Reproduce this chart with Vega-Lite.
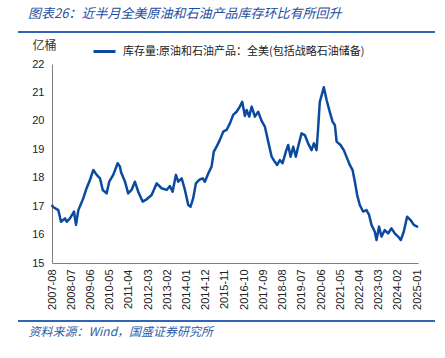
{
  "$schema": "https://vega.github.io/schema/vega-lite/v6.json",
  "width": 366,
  "height": 199,
  "autosize": {"type": "none"},
  "padding": {"left": 52, "top": 64, "right": 27, "bottom": 95},
  "background": "white",
  "title": {
    "text": "图表26：近半月全美原油和石油产品库存环比有所回升",
    "anchor": "start",
    "frame": "group",
    "orient": "top",
    "offset": 10,
    "dx": -24,
    "font": "Noto Sans CJK SC",
    "fontSize": 13,
    "fontStyle": "italic",
    "fontWeight": "normal",
    "color": "#1F4E9F"
  },
  "config": {
    "view": {"stroke": null},
    "font": "Liberation Sans",
    "axis": {"labelOverlap": false}
  },
  "resolve": {
    "scale": {"x": "independent", "y": "independent"},
    "axis": {"x": "independent", "y": "independent"}
  },
  "layer": [
    {
      "data": {
        "values": [
          {"d": "2007-08-01", "v": 17.05},
          {"d": "2007-08-13", "v": 16.98},
          {"d": "2007-11-19", "v": 16.86},
          {"d": "2008-01-05", "v": 16.45},
          {"d": "2008-03-14", "v": 16.57},
          {"d": "2008-04-13", "v": 16.45},
          {"d": "2008-06-09", "v": 16.57},
          {"d": "2008-08-18", "v": 16.81},
          {"d": "2008-09-22", "v": 16.34},
          {"d": "2008-11-02", "v": 16.86},
          {"d": "2009-01-28", "v": 17.28},
          {"d": "2009-03-26", "v": 17.63},
          {"d": "2009-05-23", "v": 17.92},
          {"d": "2009-07-20", "v": 18.27},
          {"d": "2009-09-18", "v": 18.1},
          {"d": "2009-11-14", "v": 17.98},
          {"d": "2010-01-01", "v": 17.57},
          {"d": "2010-03-10", "v": 17.45},
          {"d": "2010-04-24", "v": 17.86},
          {"d": "2010-07-03", "v": 18.1},
          {"d": "2010-09-18", "v": 18.51},
          {"d": "2010-10-28", "v": 18.39},
          {"d": "2010-11-15", "v": 18.2},
          {"d": "2011-01-24", "v": 17.86},
          {"d": "2011-03-20", "v": 17.45},
          {"d": "2011-05-18", "v": 17.57},
          {"d": "2011-07-15", "v": 17.86},
          {"d": "2011-09-11", "v": 17.51},
          {"d": "2011-11-27", "v": 17.16},
          {"d": "2012-02-05", "v": 17.24},
          {"d": "2012-05-02", "v": 17.39},
          {"d": "2012-07-28", "v": 17.8},
          {"d": "2012-10-23", "v": 17.63},
          {"d": "2013-01-19", "v": 17.57},
          {"d": "2013-03-16", "v": 17.71},
          {"d": "2013-05-02", "v": 17.51},
          {"d": "2013-06-29", "v": 18.1},
          {"d": "2013-08-08", "v": 17.86},
          {"d": "2013-10-07", "v": 17.98},
          {"d": "2013-12-03", "v": 17.57},
          {"d": "2014-01-30", "v": 17.04},
          {"d": "2014-03-11", "v": 16.98},
          {"d": "2014-04-26", "v": 17.28},
          {"d": "2014-06-12", "v": 17.8},
          {"d": "2014-08-09", "v": 17.92},
          {"d": "2014-10-07", "v": 17.98},
          {"d": "2014-11-16", "v": 17.86},
          {"d": "2015-01-13", "v": 18.15},
          {"d": "2015-03-12", "v": 18.39},
          {"d": "2015-04-21", "v": 18.92},
          {"d": "2015-06-07", "v": 19.09},
          {"d": "2015-08-04", "v": 19.33},
          {"d": "2015-10-01", "v": 19.62},
          {"d": "2015-11-29", "v": 19.68},
          {"d": "2016-01-26", "v": 19.91},
          {"d": "2016-03-23", "v": 20.21},
          {"d": "2016-05-21", "v": 20.32},
          {"d": "2016-07-17", "v": 20.5},
          {"d": "2016-08-27", "v": 20.67},
          {"d": "2016-10-13", "v": 20.17},
          {"d": "2016-11-12", "v": 20.38},
          {"d": "2016-12-27", "v": 20.15},
          {"d": "2017-02-08", "v": 20.5},
          {"d": "2017-04-05", "v": 20.15},
          {"d": "2017-06-01", "v": 20.32},
          {"d": "2017-07-31", "v": 20.0},
          {"d": "2017-09-26", "v": 19.8},
          {"d": "2017-11-23", "v": 19.27},
          {"d": "2018-01-22", "v": 18.74},
          {"d": "2018-03-18", "v": 18.56},
          {"d": "2018-04-28", "v": 18.45},
          {"d": "2018-06-14", "v": 18.62},
          {"d": "2018-07-31", "v": 18.51},
          {"d": "2018-09-27", "v": 18.92},
          {"d": "2018-11-06", "v": 19.15},
          {"d": "2018-12-18", "v": 18.74},
          {"d": "2019-02-02", "v": 19.09},
          {"d": "2019-03-19", "v": 18.74},
          {"d": "2019-04-28", "v": 19.09},
          {"d": "2019-06-27", "v": 19.56},
          {"d": "2019-08-23", "v": 19.5},
          {"d": "2019-10-19", "v": 19.21},
          {"d": "2019-12-18", "v": 18.97},
          {"d": "2020-01-28", "v": 19.21},
          {"d": "2020-03-14", "v": 18.97},
          {"d": "2020-04-11", "v": 19.74},
          {"d": "2020-05-10", "v": 20.67},
          {"d": "2020-07-19", "v": 21.18},
          {"d": "2020-09-10", "v": 20.7},
          {"d": "2020-11-02", "v": 20.3},
          {"d": "2020-12-19", "v": 19.97},
          {"d": "2021-01-28", "v": 19.85},
          {"d": "2021-02-27", "v": 19.27},
          {"d": "2021-05-06", "v": 19.15},
          {"d": "2021-07-02", "v": 18.97},
          {"d": "2021-08-29", "v": 18.68},
          {"d": "2021-10-15", "v": 18.45},
          {"d": "2021-12-02", "v": 18.27},
          {"d": "2022-01-11", "v": 17.86},
          {"d": "2022-02-20", "v": 17.39},
          {"d": "2022-04-07", "v": 17.04},
          {"d": "2022-06-03", "v": 16.81},
          {"d": "2022-08-01", "v": 16.86},
          {"d": "2022-09-16", "v": 16.69},
          {"d": "2022-10-28", "v": 16.34},
          {"d": "2022-12-24", "v": 16.1},
          {"d": "2023-01-23", "v": 15.81},
          {"d": "2023-03-08", "v": 16.28},
          {"d": "2023-04-19", "v": 15.93},
          {"d": "2023-06-16", "v": 16.16},
          {"d": "2023-08-12", "v": 16.04},
          {"d": "2023-10-11", "v": 16.22},
          {"d": "2023-12-07", "v": 16.04},
          {"d": "2024-02-03", "v": 15.93},
          {"d": "2024-03-21", "v": 15.81},
          {"d": "2024-05-12", "v": 16.1},
          {"d": "2024-07-09", "v": 16.63},
          {"d": "2024-09-07", "v": 16.51},
          {"d": "2024-11-03", "v": 16.34},
          {"d": "2024-12-31", "v": 16.28},
          {"d": "2025-01-15", "v": 16.3}
        ]
      },
      "mark": {"type": "line", "strokeWidth": 2.5, "strokeJoin": "round"},
      "encoding": {
        "x": {
          "field": "d",
          "type": "temporal",
          "scale": {"domain": [{"year": 2007, "month": 8, "date": 1}, {"year": 2025, "month": 1, "date": 15}]},
          "axis": {
            "values": [
              {"year": 2007, "month": 8, "date": 1}, {"year": 2008, "month": 7, "date": 1},
              {"year": 2009, "month": 6, "date": 1}, {"year": 2010, "month": 5, "date": 1},
              {"year": 2011, "month": 4, "date": 1}, {"year": 2012, "month": 3, "date": 1},
              {"year": 2013, "month": 2, "date": 1}, {"year": 2014, "month": 1, "date": 1},
              {"year": 2014, "month": 12, "date": 1}, {"year": 2015, "month": 11, "date": 1},
              {"year": 2016, "month": 10, "date": 1}, {"year": 2017, "month": 9, "date": 1},
              {"year": 2018, "month": 8, "date": 1}, {"year": 2019, "month": 7, "date": 1},
              {"year": 2020, "month": 6, "date": 1}, {"year": 2021, "month": 5, "date": 1},
              {"year": 2022, "month": 4, "date": 1}, {"year": 2023, "month": 3, "date": 1},
              {"year": 2024, "month": 2, "date": 1}, {"year": 2025, "month": 1, "date": 1}
            ],
            "format": "%Y-%m",
            "labelAngle": -90,
            "labelFontSize": 11,
            "labelColor": "#222222",
            "labelPadding": 6,
            "labelOverlap": false,
            "labelFlush": false,
            "ticks": false,
            "grid": false,
            "domainColor": "#7F7F7F",
            "title": "资料来源：Wind，国盛证券研究所",
            "titleFont": "Noto Sans CJK SC",
            "titleFontSize": 12,
            "titleFontStyle": "italic",
            "titleFontWeight": "normal",
            "titleColor": "#2F5DA8",
            "titleAlign": "left",
            "titleBaseline": "middle",
            "titleX": -24,
            "titleY": 68
          }
        },
        "y": {
          "field": "v",
          "type": "quantitative",
          "scale": {"domain": [15, 22], "nice": false, "zero": false},
          "axis": {
            "values": [15, 16, 17, 18, 19, 20, 21, 22],
            "labelFontSize": 11,
            "labelColor": "#222222",
            "labelPadding": 8,
            "labelOverlap": false,
            "ticks": false,
            "grid": false,
            "domainColor": "#7F7F7F",
            "title": "亿桶",
            "titleFont": "Noto Sans CJK SC",
            "titleFontSize": 12,
            "titleFontWeight": "normal",
            "titleColor": "#333333",
            "titleAngle": 0,
            "titleAlign": "left",
            "titleBaseline": "middle",
            "titleX": -20,
            "titleY": -19
          }
        },
        "color": {
          "datum": "库存量:原油和石油产品：全美(包括战略石油储备)",
          "scale": {"range": ["#0B4A9E"]},
          "legend": {
            "orient": "none",
            "legendX": 40,
            "legendY": -25,
            "title": null,
            "symbolType": "stroke",
            "symbolSize": 484,
            "symbolStrokeWidth": 3,
            "labelFont": "Noto Sans CJK SC",
            "labelFontSize": 11,
            "labelColor": "#222222",
            "labelOffset": 6,
            "labelLimit": 0,
            "padding": 0
          }
        }
      }
    },
    {
      "data": {"values": [{"a": -0.0929, "b": 1.0464, "y": 1.1608}, {"a": -0.0929, "b": 1.0464, "y": -0.2915}]},
      "mark": {"type": "rule", "color": "#2F66B3", "strokeWidth": 2, "clip": false},
      "encoding": {
        "x": {"field": "a", "type": "quantitative", "scale": {"domain": [0, 1], "nice": false, "zero": false, "clamp": false}, "axis": null},
        "x2": {"field": "b"},
        "y": {"field": "y", "type": "quantitative", "scale": {"domain": [0, 1], "nice": false, "zero": false, "clamp": false}, "axis": null}
      }
    }
  ]
}
